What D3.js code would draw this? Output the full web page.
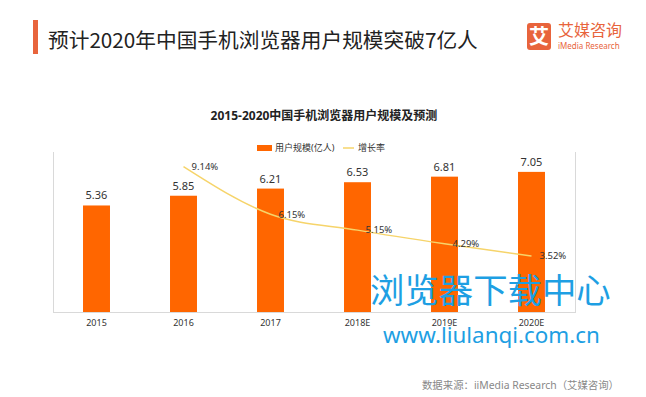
<!DOCTYPE html>
<html><head><meta charset="utf-8">
<script src="https://cdn.jsdelivr.net/npm/d3@7"></script>
<style>
html,body{margin:0;padding:0;background:#fff;}
svg{display:block;font-family:"Noto Sans","Noto Sans CJK SC",sans-serif;}
</style></head>
<body>
<svg id="c" width="646" height="397"></svg>
<script>
const categories = ["2015","2016","2017","2018E","2019E","2020E"];
const users = [5.36,5.85,6.21,6.53,6.81,7.05];
const growth = [null,9.14,6.15,5.15,4.29,3.52];
const seriesNames = ["用户规模(亿人)","增长率"];
const mainTitle = "预计2020年中国手机浏览器用户规模突破7亿人";
const chartTitle = "2015-2020中国手机浏览器用户规模及预测";
const sourceText = "数据来源：iiMedia Research（艾媒咨询）";

(function(){
const svg = d3.select("#c");
const ORANGE = "#FF6600", YELLOW = "#F6D46A", ACCENT = "#E8643C";
const pLeft = 53, pRight = 575, pTop = 153, pBottom = 312;

// header
svg.append("rect").attr("x",33).attr("y",20).attr("width",5).attr("height",34).attr("fill",ACCENT);
svg.append("text").attr("x",48).attr("y",48).attr("font-size",20.7).attr("fill","#222")
  .attr("font-family","'Noto Sans CJK SC',sans-serif").text(mainTitle);
// logo
svg.append("rect").attr("x",527).attr("y",23).attr("width",24).attr("height",27).attr("rx",3).attr("fill",ACCENT);
svg.append("text").attr("x",539).attr("y",44).attr("text-anchor","middle").attr("font-size",20)
  .attr("font-weight","bold").attr("fill","#fff").attr("font-family","'Noto Sans CJK SC',sans-serif").text("艾");
svg.append("text").attr("x",558).attr("y",36).attr("font-size",16).attr("fill",ACCENT)
  .attr("font-family","'Noto Sans CJK SC',sans-serif").text("艾媒咨询");
svg.append("text").attr("x",558).attr("y",49).attr("font-size",8).attr("fill",ACCENT).text("iMedia Research");

// chart title
svg.append("text").attr("x",324).attr("y",120).attr("text-anchor","middle").attr("font-size",12)
  .attr("font-weight","bold").attr("fill","#222").text(chartTitle);

// legend
svg.append("rect").attr("x",257).attr("y",145).attr("width",15).attr("height",6).attr("fill",ORANGE);
svg.append("text").attr("x",275).attr("y",148).attr("dy","0.35em").attr("font-size",9).attr("fill","#333").text(seriesNames[0]);
svg.append("line").attr("x1",343).attr("x2",354).attr("y1",148).attr("y2",148).attr("stroke",YELLOW).attr("stroke-width",1.5);
svg.append("text").attr("x",358).attr("y",148).attr("dy","0.35em").attr("font-size",9).attr("fill","#333").text(seriesNames[1]);

// scales
const x = d3.scaleBand().domain(categories).range([pLeft,pRight]).paddingInner(0.69).paddingOuter(0.345);
const y = d3.scaleLinear().domain([0,8]).range([pBottom,pTop]);
const y2 = d3.scaleLinear().domain([0,10]).range([pBottom,pTop]);
const cx = d => x(d) + x.bandwidth()/2;

// frame
const frame = svg.append("g").attr("stroke","#d9d9d9").attr("stroke-width",1).attr("fill","none");
frame.append("line").attr("x1",pLeft+0.5).attr("x2",pLeft+0.5).attr("y1",pTop-1).attr("y2",pBottom);
frame.append("line").attr("x1",pRight+0.5).attr("x2",pRight+0.5).attr("y1",pTop-1).attr("y2",pBottom);
frame.append("line").attr("x1",pLeft).attr("x2",pRight+1).attr("y1",pBottom+0.5).attr("y2",pBottom+0.5);

// bars
svg.append("g").selectAll("rect").data(users).join("rect")
  .attr("x",(d,i)=>x(categories[i])).attr("width",x.bandwidth())
  .attr("y",d=>y(d)).attr("height",d=>y(0)-y(d)).attr("fill",ORANGE);
svg.append("g").selectAll("text").data(users).join("text")
  .attr("x",(d,i)=>cx(categories[i])).attr("y",d=>y(d)-6).attr("text-anchor","middle")
  .attr("font-size",11).attr("fill","#333").text(d=>d.toFixed(2));

// line
const pts = growth.map((g,i)=>({c:categories[i],g})).filter(p=>p.g!=null);
svg.append("path").datum(pts).attr("fill","none").attr("stroke",YELLOW).attr("stroke-width",1.5)
  .attr("d",d3.line().x(p=>cx(p.c)).y(p=>y2(p.g)).curve(d3.curveMonotoneX));
svg.append("g").selectAll("text").data(pts).join("text")
  .attr("x",p=>cx(p.c)+8).attr("y",p=>y2(p.g)).attr("dy","0.35em")
  .attr("font-size",9.5).attr("fill","#333").text(p=>p.g.toFixed(2)+"%");

// x axis
const ax = svg.append("g").attr("transform",`translate(0,${pBottom})`)
  .call(d3.axisBottom(x).tickSize(0).tickPadding(8));
ax.select(".domain").remove();
ax.selectAll("text").attr("font-size",9).attr("fill","#333").attr("font-family","'Noto Sans',sans-serif");

// source
svg.append("text").attr("x",619).attr("y",389).attr("text-anchor","end").attr("font-size",10.4)
  .attr("fill","#888").text(sourceText);

// watermark
svg.append("text").attr("x",370).attr("y",303).attr("font-size",34.4).attr("fill","#1E9FE3")
  .attr("font-family","'Noto Sans CJK SC',sans-serif").text("浏览器下载中心");
svg.append("text").attr("x",383).attr("y",343).attr("font-size",22.4).attr("fill","#1E9FE3")
  .attr("font-family","'Noto Sans',sans-serif").text("www.liulanqi.com.cn");
})();
</script>
</body></html>
